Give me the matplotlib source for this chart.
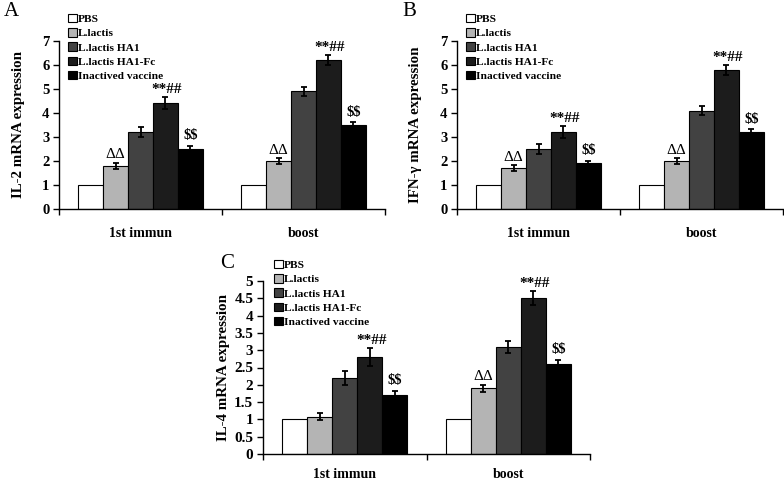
import matplotlib
matplotlib.use("Agg")
import matplotlib.pyplot as plt
import numpy as np

plt.rcParams['font.family'] = ['Liberation Serif', 'DejaVu Serif']

groups = ["PBS", "L.lactis", "L.lactis HA1", "L.lactis HA1-Fc", "Inactived vaccine"]
colors = ["#ffffff", "#b4b4b4", "#424242", "#1c1c1c", "#000000"]
categories = ["1st immun", "boost"]

# Panel A: IL-2
il2_first = [1.0, 1.8, 3.2, 4.4, 2.5]
il2_first_err = [0.0, 0.12, 0.2, 0.25, 0.13]
il2_boost = [1.0, 2.0, 4.9, 6.2, 3.5]
il2_boost_err = [0.0, 0.12, 0.18, 0.2, 0.12]

# Panel B: IFN-gamma
ifn_first = [1.0, 1.7, 2.5, 3.2, 1.9]
ifn_first_err = [0.0, 0.12, 0.22, 0.25, 0.12]
ifn_boost = [1.0, 2.0, 4.1, 5.8, 3.2]
ifn_boost_err = [0.0, 0.12, 0.2, 0.2, 0.12]

# Panel C: IL-4
il4_first = [1.0, 1.08, 2.2, 2.8, 1.7]
il4_first_err = [0.0, 0.1, 0.2, 0.25, 0.13]
il4_boost = [1.0, 1.9, 3.1, 4.5, 2.6]
il4_boost_err = [0.0, 0.1, 0.18, 0.2, 0.13]

W, H = 784, 482
fig = plt.figure(figsize=(W / 100, H / 100), dpi=100)


def px_axes(left, right, top, bottom):
    return fig.add_axes([left / W, 1 - bottom / H, (right - left) / W, (bottom - top) / H])


def panel(ax, first, first_err, boost, boost_err, ymax, yticks, yticklabels,
          ylabel, letter, letter_xy, label_x, legend_xy, first_delta, tick_fs, xpad):
    bw = 0.153
    offsets = (np.arange(5) - 2) * bw
    vals = [first, boost]
    errs = [first_err, boost_err]
    handles = []
    for i in range(5):
        xs = np.array([0.5, 1.5]) + offsets[i]
        ys = [vals[0][i], vals[1][i]]
        es = [errs[0][i], errs[1][i]]
        b = ax.bar(xs, ys, width=bw, color=colors[i], edgecolor="black", linewidth=0.8,
                   label=groups[i], zorder=2)
        handles.append(b)
        if i > 0:
            ax.errorbar(xs, ys, yerr=es, fmt="none", ecolor="black", elinewidth=1.3,
                        capsize=2.4, capthick=1.3, zorder=3)
    # annotations
    for g in range(2):
        c = 0.5 + g
        if g == 1 or first_delta:
            top = vals[g][1] + errs[g][1]
            ax.text(c + offsets[1], top + 0.06 * ymax / 7, "ΔΔ", ha="center", va="bottom",
                    fontsize=11, color="black")
        top = vals[g][3] + errs[g][3]
        ax.text(c + offsets[3] + 0.01, top + 0.05 * ymax / 7, "**##", ha="center", va="bottom",
                fontsize=11, fontweight="bold")
        top = vals[g][4] + errs[g][4]
        ax.text(c + offsets[4], top + 0.15 * ymax / 7, r"\$\$", ha="center", va="bottom",
                fontsize=10.5, fontweight="bold")

    ax.set_xlim(0, 2)
    ax.set_ylim(0, ymax)
    ax.set_yticks(yticks)
    ax.set_yticklabels(yticklabels, fontsize=tick_fs, fontweight="bold")
    ax.tick_params(axis="y", direction="out", length=4, width=1, pad=3)
    ax.set_xticks([0.5, 1.5])
    ax.set_xticklabels(categories, fontsize=10, fontweight="bold")
    ax.set_xticks([0, 1, 2], minor=True)
    ax.tick_params(axis="x", which="major", length=0, pad=xpad)
    ax.tick_params(axis="x", which="minor", direction="out", length=4, width=1)
    for s in ["top", "right"]:
        ax.spines[s].set_visible(False)
    for s in ["left", "bottom"]:
        ax.spines[s].set_linewidth(1)
    ax.patch.set_alpha(0)

    bb = ax.get_position()
    fig.text(label_x / W, (bb.y0 + bb.y1) / 2, ylabel, rotation=90, ha="center", va="center",
             fontsize=10.8, fontweight="bold")
    fig.text(letter_xy[0] / W, 1 - letter_xy[1] / H, letter, ha="left", va="top", fontsize=15)
    leg = ax.legend(handles=handles, loc="upper left",
                    bbox_to_anchor=(legend_xy[0] / W, 1 - legend_xy[1] / H),
                    bbox_transform=fig.transFigure, frameon=False,
                    prop={"size": 8.2, "weight": "bold"}, handlelength=0.75, handleheight=0.75,
                    handletextpad=0.15, labelspacing=0.36, borderpad=0, borderaxespad=0)
    for h in leg.legend_handles:
        h.set_linewidth(0.8)


axA = px_axes(59, 385, 41, 209)
panel(axA, il2_first, il2_first_err, il2_boost, il2_boost_err, 7, range(8),
      [str(i) for i in range(8)], "IL-2 mRNA expression", "A", (4, 2), 19, (68, 14),
      True, 10.5, 13)

axB = px_axes(457, 783, 41, 209)
panel(axB, ifn_first, ifn_first_err, ifn_boost, ifn_boost_err, 7, range(8),
      [str(i) for i in range(8)], "IFN-γ mRNA expression", "B", (402, 2), 415, (466, 14),
      True, 10.5, 13)

c_ticks = np.arange(0, 5.01, 0.5)
c_labels = ["0", "0.5", "1", "1.5", "2", "2.5", "3", "3.5", "4", "4.5", "5"]
axC = px_axes(263, 590, 281, 454)
panel(axC, il4_first, il4_first_err, il4_boost, il4_boost_err, 5, c_ticks, c_labels,
      "IL-4 mRNA expression", "C", (220, 254), 224, (274, 260),
      False, 11, 10)

fig.savefig("out.png", dpi=100)
